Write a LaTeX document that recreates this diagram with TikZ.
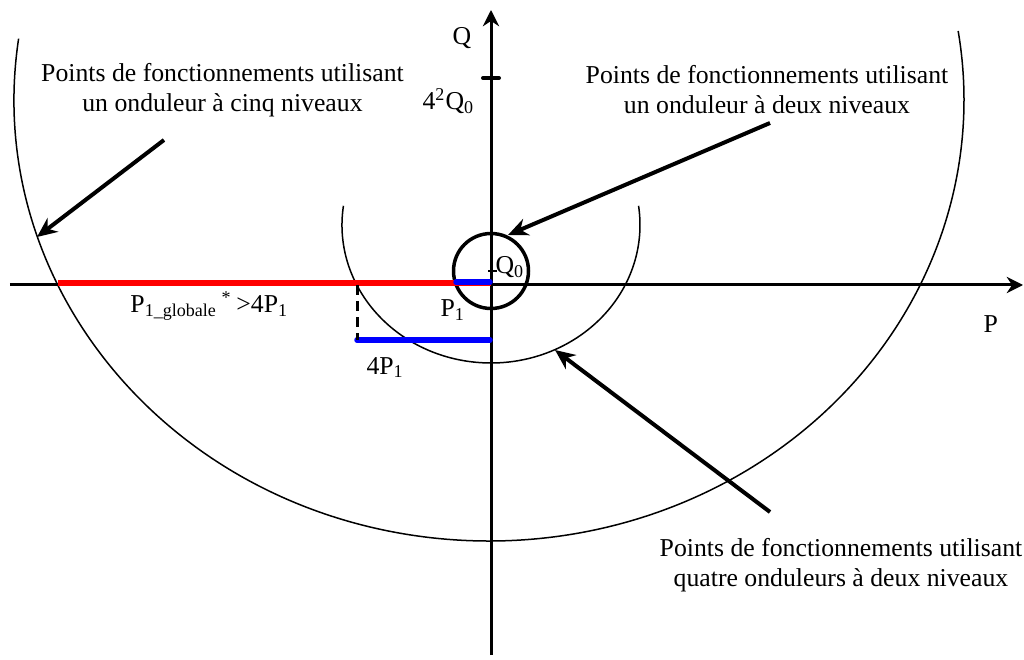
\documentclass[tikz,border=0pt]{standalone}
\usepackage{fontspec}
\setmainfont{Liberation Serif}
\usetikzlibrary{arrows.meta}
\definecolor{opred}{RGB}{255,0,0}
\definecolor{opblue}{RGB}{0,0,255}

\begin{document}
\begin{tikzpicture}[
x=0.4pt, y=0.4pt,
axis/.style={line width=1.2pt, -{Stealth[length=6.5pt,width=6.5pt]}},
locus/.style={line width=0.6pt},
pointer/.style={line width=1.6pt, -{Stealth[length=8pt,width=7pt]}},
tickmark/.style={line width=1.6pt, line cap=round},
seg/.style={line width=2.2pt},
lbl/.style={inner sep=0pt, font=\fontsize{10.3}{12}\selectfont},
note/.style={lbl, align=center, anchor=north}
]
\useasboundingbox (-491,-374) rectangle (533,285);

\coordinate (Pstart) at (-481,0);
\coordinate (Pend) at (532,0);
\coordinate (Qbot) at (0,-370);
\coordinate (Qtop) at (0,275);
\draw[axis] (Pstart) -- (Pend);
\draw[axis] (Qbot) -- (Qtop);

\coordinate (Qzero) at (0,14);
\coordinate (Qfour) at (0,207);
\draw[tickmark] (Qfour) ++(-8,0) -- ++(16,0);
\draw[line width=0.9pt] (Qzero) ++(-3,0) -- ++(9,0);

\coordinate (Cmid) at (0,60);
\coordinate (Cbig) at (-2,185);
\draw[line width=1.4pt] (Qzero) circle[radius=37.5];
\draw[locus] (Cmid) ++(172:149 and 138) arc[start angle=172, end angle=368, x radius=149, y radius=138];
\draw[locus] (Cbig) ++(172:475 and 441) arc[start angle=172, end angle=369, x radius=475, y radius=441];

\coordinate (Pg) at (-433,2);
\coordinate (Rend) at (0,2);
\coordinate (Pone) at (-35,3);
\coordinate (Bend) at (-1,3);
\coordinate (Pf) at (-134,0);
\coordinate (Pfb) at (-134,-55);
\coordinate (Lend) at (-1,-55);
\draw[seg, opred] (Pg) -- (Rend);
\draw[seg, opblue, line cap=round] (Pone) -- (Bend);
\draw[seg, opblue, line cap=round] (Pfb) -- (Lend);
\draw[line width=1.2pt, dash pattern=on 4pt off 2.4pt] (Pf) -- (Pfb);

\coordinate (a1s) at (-327,145);
\coordinate (a1e) at (-454,48);
\coordinate (a2s) at (279,162);
\coordinate (a2e) at (17,50);
\coordinate (a3s) at (279,-227);
\coordinate (a3e) at (64,-65);
\draw[pointer] (a1s) -- (a1e);
\draw[pointer] (a2s) -- (a2e);
\draw[pointer] (a3s) -- (a3e);

\node[note] (fiveLvl) at (-268.5,222.5) {Points de fonctionnements utilisant\\un onduleur à cinq niveaux};
\node[note] (twoLvl) at (276,220.5) {Points de fonctionnements utilisant\\un onduleur à deux niveaux};
\node[note] (fourInv) at (350,-252.5) {Points de fonctionnements utilisant\\quatre onduleurs à deux niveaux};

\node[lbl, anchor=base] (Qlbl) at (-29,240) {Q};
\node[lbl, anchor=base west] (Qfourlbl) at (-69,175) {4\textsuperscript{2}Q\textsubscript{0}};
\node[lbl, anchor=base west] (Qzerolbl) at (4,11) {Q\textsubscript{0}};
\node[lbl, anchor=base west] (Ponelbl) at (-51,-32) {P\textsubscript{1}};
\node[lbl, anchor=base west] (Pfourlbl) at (-125,-89) {4P\textsubscript{1}};
\node[lbl, anchor=base west] (Pglbl) at (-361,-28) {P\textsubscript{1\_globale}\textsuperscript{ * }>4P\textsubscript{1}};
\node[lbl, anchor=base west] (Plbl) at (492,-48) {P};
\end{tikzpicture}
\end{document}
